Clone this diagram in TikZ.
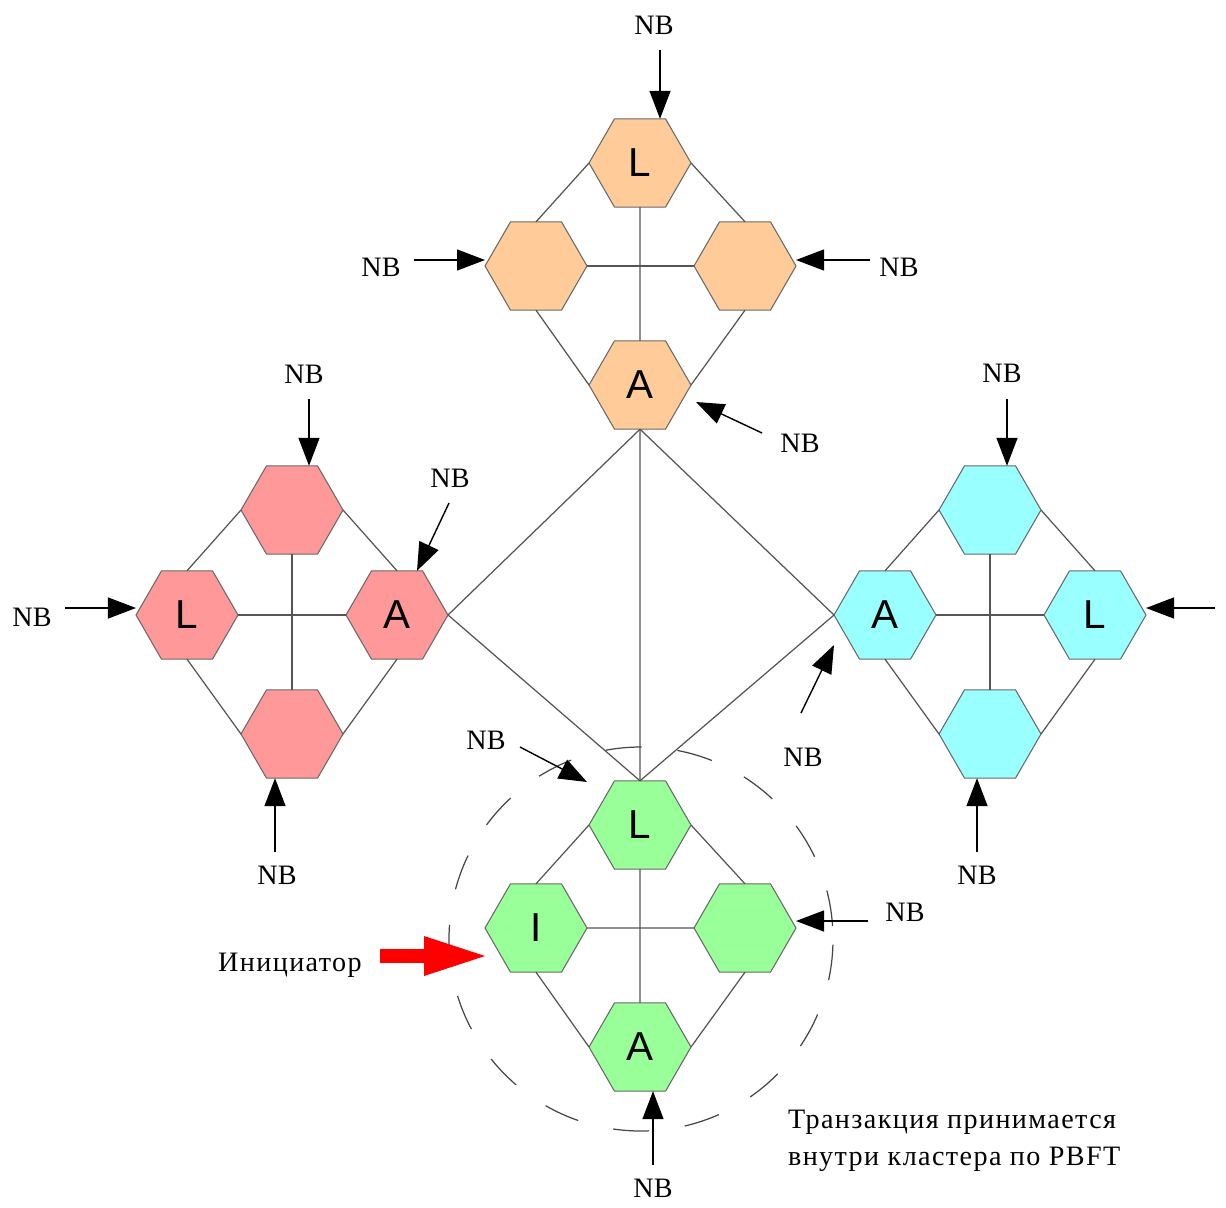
\documentclass[tikz,border=0pt]{standalone}
\usepackage{fontspec}
\setmainfont{Liberation Serif}
\newfontfamily\hexfont{Liberation Sans}
\newfontfamily\notefont[LetterSpace=5]{Liberation Serif}
\usetikzlibrary{arrows.meta, shapes.geometric, calc}
\definecolor{HexO}{RGB}{255,204,153}
\definecolor{HexR}{RGB}{255,153,153}
\definecolor{HexC}{RGB}{153,255,255}
\definecolor{HexG}{RGB}{153,255,153}
\definecolor{HexB}{RGB}{105,105,105}
\definecolor{LinkG}{RGB}{85,85,85}
\definecolor{RingG}{RGB}{70,70,70}

\begin{document}
\begin{tikzpicture}[
  x=0.2mm, y=-0.2mm,
  hex/.style={draw=HexB, line width=0.6pt, fill=#1,
              regular polygon, regular polygon sides=6,
              minimum size=20.4mm, inner sep=0pt, outer sep=0pt,
              font=\hexfont\fontsize{23}{23}\selectfont},
  link/.style={draw=LinkG, line width=0.7pt},
  nb/.style={font=\fontsize{16}{19}\selectfont, inner sep=1pt},
  note/.style={font=\notefont\fontsize{16}{21}\selectfont, inner sep=1pt},
  nbarr/.style={-{Triangle[length=5.6mm, width=4.2mm]}, line width=0.8pt},
  initarr/.style={draw=red, line width=2.8mm,
                  -{Triangle[length=12.2mm, width=8mm, line width=0pt]}},
  ring/.style={draw=RingG, line width=0.7pt,
               dash pattern=on 7.2mm off 7.2mm, dash phase=11.8mm}
]
\useasboundingbox (0,0) rectangle (1226,1207);

% clusters: N / W / E / S
\node[hex=HexO] (t-N) at (640,163) {L};
\node[hex=HexO] (t-W) at (536,266) {};
\node[hex=HexO] (t-E) at (745,266) {};
\node[hex=HexO] (t-S) at (640,385) {A};

\node[hex=HexR] (l-N) at (292,510) {};
\node[hex=HexR] (l-W) at (187,615) {L};
\node[hex=HexR] (l-E) at (397,615) {A};
\node[hex=HexR] (l-S) at (292,734) {};

\node[hex=HexC] (r-N) at (990,510) {};
\node[hex=HexC] (r-W) at (885,615) {A};
\node[hex=HexC] (r-E) at (1095,615) {L};
\node[hex=HexC] (r-S) at (990,734) {};

\node[hex=HexG] (g-N) at (640,825) {L};
\node[hex=HexG] (g-W) at (536,928) {I};
\node[hex=HexG] (g-E) at (745,928) {};
\node[hex=HexG] (g-S) at (640,1047) {A};

\foreach \c in {t,l,r,g}{
  \draw[link] (\c-N.west) -- (\c-W.north);
  \draw[link] (\c-W.south) -- (\c-S.west);
  \draw[link] (\c-N.east) -- (\c-E.north);
  \draw[link] (\c-E.south) -- (\c-S.east);
  \draw[link] (\c-N.south) -- (\c-S.north);
  \draw[link] (\c-W.east) -- (\c-E.west);
}

% links between clusters
\draw[link] (t-S.south) -- (l-E.east);
\draw[link] (t-S.south) -- (r-W.west);
\draw[link] (t-S.south) -- (g-N.north);
\draw[link] (l-E.east) -- (g-N.north);
\draw[link] (r-W.west) -- (g-N.north);

% PBFT ring
\coordinate (ringc) at (641,939);
\draw[ring] (ringc) circle [radius=38.4mm];

% NB inputs
\node[nb] (nb1)  at (654,25)   {NB};
\node[nb] (nb2)  at (381,267)  {NB};
\node[nb] (nb3)  at (899,267)  {NB};
\node[nb] (nb4)  at (800,443)  {NB};
\node[nb] (nb5)  at (304,374)  {NB};
\node[nb] (nb6)  at (450,478)  {NB};
\node[nb] (nb7)  at (32,617)   {NB};
\node[nb] (nb8)  at (277,875)  {NB};
\node[nb] (nb9)  at (1002,373) {NB};
\node[nb] (nb11) at (803,757)  {NB};
\node[nb] (nb12) at (977,875)  {NB};
\node[nb] (nb13) at (486,740)  {NB};
\node[nb] (nb14) at (905,912)  {NB};
\node[nb] (nb15) at (653,1188) {NB};

\coordinate (a1)  at (660,50);
\coordinate (a2)  at (414,260);
\coordinate (a3)  at (870,260);
\coordinate (a4)  at (762,433);
\coordinate (a5)  at (309,399);
\coordinate (a6)  at (449,503);
\coordinate (a7)  at (65,608);
\coordinate (a8)  at (275,852);
\coordinate (a9)  at (1007,399);
\coordinate (a10) at (1215,608);
\coordinate (a11) at (801,713);
\coordinate (a12) at (977,852);
\coordinate (a13) at (520,747);
\coordinate (a14) at (868,921);
\coordinate (a15) at (653,1165);

\draw[nbarr] (a1) -- (t-N.north -| a1);
\draw[nbarr] (a2) -- (t-W.west |- a2);
\draw[nbarr] (a3) -- (t-E.east |- a3);
\draw[nbarr] (a4) -- ($(t-S.east)+(5,17)$);
\draw[nbarr] (a5) -- (l-N.north -| a5);
\draw[nbarr] (a6) -- ($(l-E.north)+(20,0)$);
\draw[nbarr] (a7) -- (l-W.west |- a7);
\draw[nbarr] (a8) -- (l-S.south -| a8);
\draw[nbarr] (a9) -- (r-N.north -| a9);
\draw[nbarr] (a10) -- (r-E.east |- a10);
\draw[nbarr] (a11) -- ($(r-W.west)+(0,30)$);
\draw[nbarr] (a12) -- (r-S.south -| a12);
\draw[nbarr] (a13) -- ($(g-N.west)+(-2,-43)$);
\draw[nbarr] (a14) -- (g-E.east |- a14);
\draw[nbarr] (a15) -- (g-S.south -| a15);

% initiator
\coordinate (inittail) at (380,956);
\draw[initarr] (inittail) -- (g-W.west |- inittail);
\node[note] (init) at (290,965) {Инициатор};

\node[note, anchor=west, align=left]
  (pbft) at (786,1141) {Транзакция принимается\\внутри кластера по PBFT};
\end{tikzpicture}
\end{document}
